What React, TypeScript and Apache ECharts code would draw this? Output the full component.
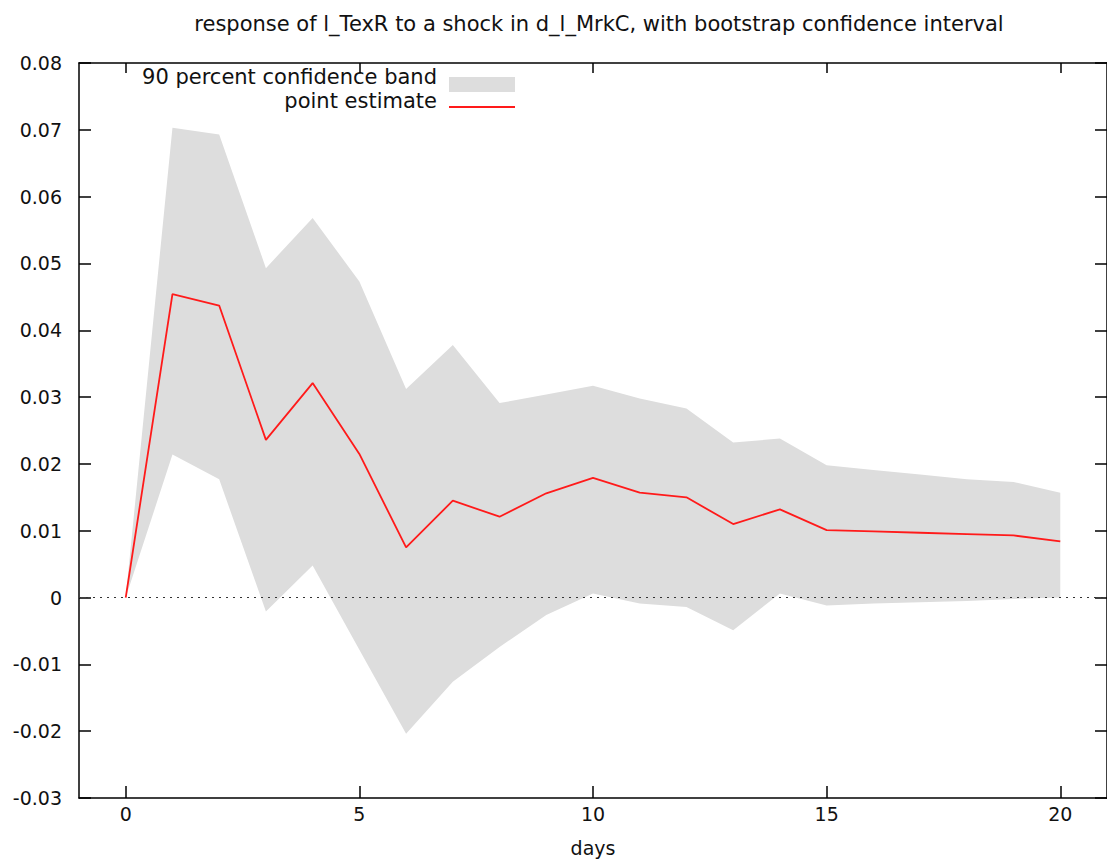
import React, { useEffect, useRef } from "react";
import * as echarts from "echarts";

const days = [0, 1, 2, 3, 4, 5, 6, 7, 8, 9, 10, 11, 12, 13, 14, 15, 16, 17, 18, 19, 20];
const pointEstimate = [0, 0.0454, 0.0437, 0.0236, 0.0321, 0.0215, 0.0075, 0.0145, 0.0121, 0.0156, 0.0179, 0.0157, 0.015, 0.011, 0.0132, 0.0101, 0.0099, 0.0097, 0.0095, 0.0093, 0.0084];
const bandUpper = [0, 0.0703, 0.0693, 0.0493, 0.0568, 0.0473, 0.0312, 0.0378, 0.0291, 0.0304, 0.0317, 0.0298, 0.0283, 0.0232, 0.0238, 0.0198, 0.0191, 0.0184, 0.0177, 0.0173, 0.0157];
const bandLower = [0, 0.0214, 0.0177, -0.0021, 0.0048, -0.0078, -0.0204, -0.0126, -0.0074, -0.0026, 0.0006, -0.0009, -0.0014, -0.0049, 0.0006, -0.0012, -0.0009, -0.0007, -0.0005, -0.0002, 0.0];
const xTicks = [0, 5, 10, 15, 20];
const titleText = "response of l_TexR to a shock in d_l_MrkC, with bootstrap confidence interval";
const xAxisName = "days";
const legendBand = "90 percent confidence band";
const legendLine = "point estimate";

const FONT = "DejaVu Sans";

export default function App() {
  const ref = useRef<HTMLDivElement>(null);
  useEffect(() => {
    if (!ref.current) return;
    const chart = echarts.init(ref.current, undefined, { renderer: "svg" });
    const axisLine = { show: true, onZero: false, lineStyle: { color: "#000", width: 1.5 } };
    const tickStyle = { color: "#000", width: 1.5 };
    const labelStyle = { fontFamily: FONT, fontSize: 19, color: "#111" };
    chart.setOption({
      animation: false,
      backgroundColor: "#fff",
      title: {
        text: titleText,
        left: 594,
        top: 8,
        textAlign: "center",
        textStyle: { fontFamily: FONT, fontSize: 21, fontWeight: "normal", color: "#111" },
      },
      grid: { left: 79, top: 63, width: 1035, height: 735, containLabel: false },
      xAxis: [
        {
          type: "value",
          position: "bottom",
          min: -1,
          max: 21,
          axisLine,
          axisTick: { show: true, inside: true, length: 12, customValues: xTicks, lineStyle: tickStyle },
          axisLabel: { show: true, customValues: xTicks, margin: 6, ...labelStyle },
          splitLine: { show: false },
          name: xAxisName,
          nameLocation: "middle",
          nameGap: 40,
          nameTextStyle: { ...labelStyle },
        },
        {
          type: "value",
          position: "top",
          min: -1,
          max: 21,
          axisLine,
          axisTick: { show: true, inside: true, length: 10, customValues: xTicks, lineStyle: tickStyle },
          axisLabel: { show: false },
          splitLine: { show: false },
        },
      ],
      yAxis: [
        {
          type: "value",
          position: "left",
          min: -0.03,
          max: 0.08,
          interval: 0.01,
          axisLine,
          axisTick: { show: true, inside: true, length: 12, lineStyle: tickStyle },
          axisLabel: {
            show: true,
            margin: 17,
            ...labelStyle,
            formatter: (v: number) => (Math.abs(v) < 1e-9 ? "0" : v.toFixed(2)),
          },
          splitLine: { show: false },
        },
        {
          type: "value",
          position: "right",
          min: -0.03,
          max: 0.08,
          interval: 0.01,
          axisLine,
          axisTick: { show: true, inside: true, length: 12, lineStyle: tickStyle },
          axisLabel: { show: false },
          splitLine: { show: false },
        },
      ],
      series: [
        {
          name: legendBand,
          type: "custom",
          xAxisIndex: 0,
          yAxisIndex: 0,
          silent: true,
          z: 1,
          data: days.map((d, i) => [d, bandLower[i], bandUpper[i]]),
          encode: { x: 0, y: [1, 2] },
          renderItem: (params: any, api: any) => {
            if (params.dataIndex !== 0) return null;
            const pts: number[][] = [];
            for (let i = 0; i < days.length; i++) pts.push(api.coord([days[i], bandUpper[i]]));
            for (let i = days.length - 1; i >= 0; i--) pts.push(api.coord([days[i], bandLower[i]]));
            return { type: "polygon", shape: { points: pts }, style: { fill: "#dddddd" } };
          },
        },
        {
          name: legendLine,
          type: "line",
          xAxisIndex: 0,
          yAxisIndex: 0,
          z: 3,
          data: days.map((d, i) => [d, pointEstimate[i]]),
          symbol: "none",
          lineStyle: { color: "#ff1a1a", width: 1.8 },
          markLine: {
            silent: true,
            symbol: "none",
            label: { show: false },
            lineStyle: { color: "#333", type: [2, 5], width: 1.2 },
            data: [{ yAxis: 0 }],
            z: 2,
          },
        },
      ],
      graphic: [
        {
          type: "text",
          x: 437,
          y: 77,
          style: { text: legendBand, fontFamily: FONT, fontSize: 21, fill: "#111", align: "right", verticalAlign: "middle" },
        },
        {
          type: "rect",
          shape: { x: 449, y: 77, width: 66, height: 15 },
          style: { fill: "#dddddd" },
        },
        {
          type: "text",
          x: 437,
          y: 101,
          style: { text: legendLine, fontFamily: FONT, fontSize: 21, fill: "#111", align: "right", verticalAlign: "middle" },
        },
        {
          type: "line",
          shape: { x1: 449, y1: 107, x2: 515, y2: 107 },
          style: { stroke: "#ff1a1a", lineWidth: 1.8 },
        },
      ],
    });
    return () => chart.dispose();
  }, []);
  return <div ref={ref} style={{ position: "absolute", left: 0, top: 0, width: 1107, height: 865 }} />;
}
